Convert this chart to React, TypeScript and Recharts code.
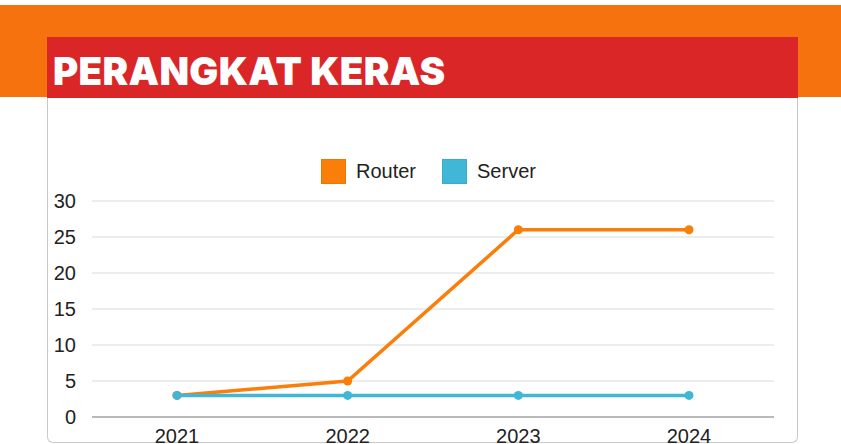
import React from 'react';
import { LineChart, Line, XAxis, YAxis, CartesianGrid, Legend } from 'recharts';

const years = ['2021', '2022', '2023', '2024'];
const router = [3, 5, 26, 26];
const server = [3, 3, 3, 3];
const yTicks = [0, 5, 10, 15, 20, 25, 30];

const ROUTER_COLOR = '#FA7F0A';
const SERVER_COLOR = '#40B7D7';
const FONT = '"Liberation Sans", Arial, sans-serif';

const data = years.map((y, i) => ({ year: y, Router: router[i], Server: server[i] }));

const LegendContent = () => (
  <div style={{ display: 'flex', justifyContent: 'flex-start', alignItems: 'center', paddingLeft: 321, fontFamily: FONT, fontSize: 20, color: '#222' }}>
    {[
      { name: 'Router', color: ROUTER_COLOR },
      { name: 'Server', color: SERVER_COLOR },
    ].map((it, i) => (
      <div key={it.name} style={{ display: 'flex', alignItems: 'center', marginLeft: i === 0 ? 0 : 26 }}>
        <div style={{ width: 25, height: 25, background: it.color, boxSizing: 'border-box', border: '1px solid rgba(0,0,0,0.06)' }} />
        <span style={{ marginLeft: 10 }}>{it.name}</span>
      </div>
    ))}
  </div>
);

export default function App() {
  return (
    <div style={{ position: 'fixed', left: 0, top: 0, width: 841, height: 444, overflow: 'hidden', background: '#fff' }}>
      <div style={{ position: 'absolute', left: 0, top: 5, width: 841, height: 92, background: '#F6720F' }} />
      <div style={{ position: 'absolute', left: 47, top: 37, width: 751, height: 62, background: '#DA2627' }} />
      <div style={{ position: 'absolute', left: 53, top: 46, color: '#fff', fontFamily: 'Inter, sans-serif', fontWeight: 900, fontSize: 38.5, letterSpacing: 0.3, lineHeight: '50px', whiteSpace: 'nowrap' }}>
        PERANGKAT KERAS
      </div>
      <div style={{ position: 'absolute', left: 47, top: 98, width: 751, height: 345, background: '#fff', boxSizing: 'border-box', border: '1px solid #c9c9cc', borderTop: 'none', borderRadius: '0 0 6px 6px' }} />
      <div style={{ position: 'absolute', left: 0, top: 0 }}>
        <LineChart width={841} height={444} data={data} margin={{ top: 201, right: 67, bottom: 0, left: 52 }}>
          <CartesianGrid vertical={false} stroke="#dcdcdc" strokeWidth={1.2} />
          <XAxis
            dataKey="year"
            height={27}
            padding={{ left: 85, right: 85 }}
            tickLine={false}
            axisLine={{ stroke: '#a9a9a9', strokeWidth: 1.5 }}
            tickMargin={6}
            tick={{ fill: '#222', fontSize: 20, fontFamily: FONT }}
          />
          <YAxis
            width={40}
            domain={[0, 30]}
            ticks={yTicks}
            interval={0}
            tickLine={false}
            axisLine={false}
            tickMargin={10}
            tick={{ fill: '#222', fontSize: 20, fontFamily: FONT }}
          />
          <Legend
            layout="vertical"
            verticalAlign="middle"
            align="center"
            content={<LegendContent />}
            wrapperStyle={{ top: 159, left: 0, width: 841, height: 26 }}
          />
          <Line type="linear" dataKey="Router" stroke={ROUTER_COLOR} strokeWidth={3.5} dot={{ r: 4.5, fill: ROUTER_COLOR, stroke: ROUTER_COLOR, strokeWidth: 0 }} isAnimationActive={false} />
          <Line type="linear" dataKey="Server" stroke={SERVER_COLOR} strokeWidth={3.5} dot={{ r: 4.5, fill: SERVER_COLOR, stroke: SERVER_COLOR, strokeWidth: 0 }} isAnimationActive={false} />
        </LineChart>
      </div>
    </div>
  );
}
